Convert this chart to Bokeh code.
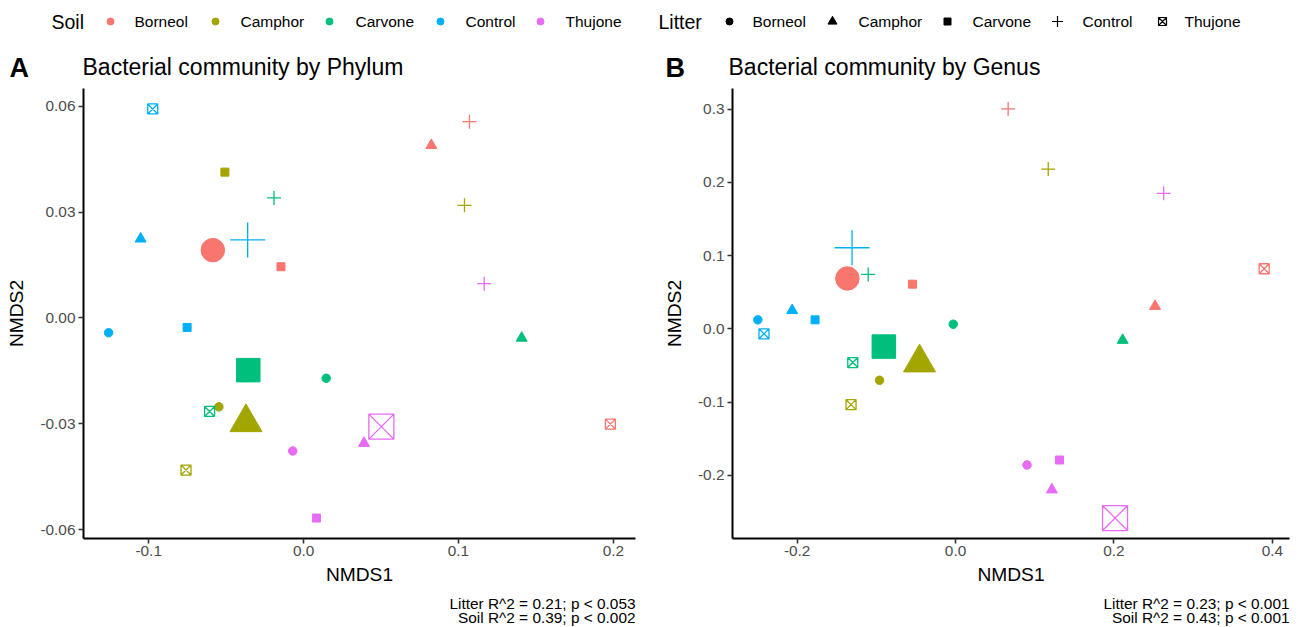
from bokeh.plotting import figure
from bokeh.models import ColumnDataSource, Range1d, FixedTicker
from bokeh.layouts import column, row
from bokeh.embed import file_html
from bokeh.resources import INLINE
from bokeh.core.properties import value
from bokeh.transform import factor_cmap, factor_mark

# ---------------- data ----------------
treatments = ["Borneol", "Camphor", "Carvone", "Control", "Thujone"]

# 25 rows: soil (outer) x litter (inner)
soil_groups = [s for s in treatments for _ in treatments]
litter_groups = [l for _ in treatments for l in treatments]

phylum_nmds1 = [-0.0586, 0.0825, -0.0146, 0.1071, 0.1981,
                -0.0547, -0.0372, -0.0508, 0.1039, -0.0759,
                0.0146, 0.1408, -0.0357, -0.0191, -0.0607,
                -0.1259, -0.1052, -0.0752, -0.0361, -0.0974,
                -0.0070, 0.0390, 0.0083, 0.1166, 0.0502]
phylum_nmds2 = [0.0192, 0.0489, 0.0145, 0.0556, -0.0301,
                -0.0252, -0.0296, 0.0413, 0.0319, -0.0431,
                -0.0171, -0.0057, -0.0148, 0.0340, -0.0265,
                -0.0042, 0.0224, -0.0027, 0.0221, 0.0592,
                -0.0377, -0.0355, -0.0567, 0.0097, -0.0308]

genus_nmds1 = [-0.1366, 0.2519, -0.0543, 0.0664, 0.3897,
               -0.0960, -0.0455, -0.0880, 0.1170, -0.1320,
               -0.0029, 0.2110, -0.0906, -0.1103, -0.1298,
               -0.2497, -0.2063, -0.1774, -0.1307, -0.2419,
               0.0902, 0.1216, 0.1312, 0.2628, 0.2014]
genus_nmds2 = [0.0688, 0.0309, 0.0610, 0.3004, 0.0821,
               -0.0703, -0.0462, -0.0240, 0.2183, -0.1036,
               0.0063, -0.0155, -0.0242, 0.0743, -0.0461,
               0.0123, 0.0252, 0.0123, 0.1108, -0.0068,
               -0.1860, -0.2198, -0.1792, 0.1851, -0.2585]

phylum_xticks = [-0.1, 0.0, 0.1, 0.2]
phylum_xlabels = ["-0.1", "0.0", "0.1", "0.2"]
phylum_yticks = [-0.06, -0.03, 0.0, 0.03, 0.06]
phylum_ylabels = ["-0.06", "-0.03", "0.00", "0.03", "0.06"]

genus_xticks = [-0.2, 0.0, 0.2, 0.4]
genus_xlabels = ["-0.2", "0.0", "0.2", "0.4"]
genus_yticks = [-0.2, -0.1, 0.0, 0.1, 0.2, 0.3]
genus_ylabels = ["-0.2", "-0.1", "0.0", "0.1", "0.2", "0.3"]

phylum_stats = ["Litter R^2 = 0.21; p < 0.053", "Soil R^2 = 0.39; p < 0.002"]
genus_stats = ["Litter R^2 = 0.23; p < 0.001", "Soil R^2 = 0.43; p < 0.001"]

panel_tags = ["A", "B"]
panel_titles = ["Bacterial community by Phylum", "Bacterial community by Genus"]

# ---------------- style ----------------
FONT = "Liberation Sans"
palette = ["#F8766D", "#A3A500", "#00BF7D", "#00B0F6", "#E76BF3"]
markers = ["circle", "triangle", "square", "cross", "square_x"]
small_size = {"circle": 8.5, "triangle": 11, "square": 8, "cross": 14, "square_x": 10}
big_size = {"circle": 23.5, "triangle": 32, "square": 23.5, "cross": 35, "square_x": 25}
open_marks = {"cross", "square_x"}
mark_of = dict(zip(treatments, markers))

TOP_H = 88
PANEL_H = 502
BOTTOM_H = 627 - TOP_H - PANEL_H
FRAME_BOTTOM_BORDER = 52


def make_source(xs, ys):
    sizes, lws, fas = [], [], []
    for s, l in zip(soil_groups, litter_groups):
        m = mark_of[l]
        sizes.append(big_size[m] if s == l else small_size[m])
        lws.append(1.3 if m in open_marks else 1.0)
        fas.append(0.0 if m in open_marks else 1.0)
    return ColumnDataSource(dict(x=xs, y=ys, soil=soil_groups, litter=litter_groups,
                                 size=sizes, lw=lws, fa=fas))


def make_panel(xs, ys, width, bl, br, xt, xl, yt, yl):
    xspan = max(xs) - min(xs)
    yspan = max(ys) - min(ys)
    p = figure(width=width, height=PANEL_H,
               x_range=Range1d(min(xs) - 0.05 * xspan, max(xs) + 0.05 * xspan),
               y_range=Range1d(min(ys) - 0.05 * yspan, max(ys) + 0.05 * yspan),
               output_backend="svg", toolbar_location=None,
               min_border_left=bl, min_border_right=br,
               min_border_top=0, min_border_bottom=FRAME_BOTTOM_BORDER)
    p.outline_line_color = None
    p.xgrid.visible = False
    p.ygrid.visible = False
    src = make_source(xs, ys)
    p.scatter(x="x", y="y", source=src, size="size",
              marker=factor_mark("litter", markers, treatments),
              fill_color=factor_cmap("soil", palette, treatments),
              line_color=factor_cmap("soil", palette, treatments),
              line_width="lw", fill_alpha="fa")
    p.xaxis.ticker = FixedTicker(ticks=xt)
    p.xaxis.major_label_overrides = dict(zip(xt, xl))
    p.yaxis.ticker = FixedTicker(ticks=yt)
    p.yaxis.major_label_overrides = dict(zip(yt, yl))
    p.xaxis.axis_label = "NMDS1"
    p.yaxis.axis_label = "NMDS2"
    for ax in (p.xaxis, p.yaxis):
        ax.axis_line_color = "black"
        ax.axis_line_width = 2
        ax.major_tick_line_color = "#333333"
        ax.major_tick_line_width = 1.6
        ax.major_tick_out = 5
        ax.major_tick_in = 0
        ax.minor_tick_line_color = None
        ax.major_label_text_font = FONT
        ax.major_label_text_font_size = "15.4px"
        ax.major_label_text_color = "#4D4D4D"
        ax.axis_label_text_font = FONT
        ax.axis_label_text_font_size = "19.2px"
        ax.axis_label_text_font_style = "normal"
        ax.axis_label_text_color = "black"
    p.xaxis.major_label_standoff = 2
    p.xaxis.axis_label_standoff = 5
    p.yaxis.major_label_standoff = 3
    p.yaxis.axis_label_standoff = 10
    return p


pA = make_panel(phylum_nmds1, phylum_nmds2, 660, 83, 25,
                phylum_xticks, phylum_xlabels, phylum_yticks, phylum_ylabels)
pB = make_panel(genus_nmds1, genus_nmds2, 641, 68, 12,
                genus_xticks, genus_xlabels, genus_yticks, genus_ylabels)

# ---------------- header: legends + panel titles ----------------
top = figure(width=1301, height=TOP_H, x_range=Range1d(0, 1301), y_range=Range1d(TOP_H, 0),
             output_backend="svg", toolbar_location=None, min_border=0,
             x_axis_type=None, y_axis_type=None)
top.outline_line_color = None

LEG_Y = 21
soil_key_x = [110, 215, 329, 440, 540]
soil_lab_x = [134, 240, 355, 465, 565]
litter_key_x = [729, 832, 947, 1057, 1162]
litter_lab_x = [752, 858, 972, 1082, 1184]
legend_key_size = {"circle": 7, "triangle": 9, "square": 7, "cross": 11, "square_x": 8}

top.text(x=[51, 658], y=[LEG_Y, LEG_Y], text=["Soil", "Litter"], text_font=value(FONT),
         text_font_size=value("19.5px"), text_baseline="middle", text_align="left",
         text_color="black")
top.scatter(x=soil_key_x, y=[LEG_Y] * 5, marker="circle", size=7, color=palette)
top.text(x=soil_lab_x, y=[LEG_Y] * 5, text=treatments, text_font=value(FONT),
         text_font_size=value("15.5px"), text_baseline="middle", text_align="left",
         text_color="black")
for kx, m in zip(litter_key_x, markers):
    top.scatter(x=[kx], y=[LEG_Y], marker=m, size=legend_key_size[m],
                fill_color="black" if m not in open_marks else None,
                line_color="black", line_width=1.2 if m in open_marks else 1)
top.text(x=litter_lab_x, y=[LEG_Y] * 5, text=treatments, text_font=value(FONT),
         text_font_size=value("15.5px"), text_baseline="middle", text_align="left",
         text_color="black")

top.text(x=[9, 665], y=[67, 67], text=panel_tags, text_font=value(FONT),
         text_font_size=value("27px"), text_font_style="bold", text_baseline="middle",
         text_align="left", text_color="black")
top.text(x=[82, 728], y=[66, 66], text=panel_titles, text_font=value(FONT),
         text_font_size=value("23px"), text_baseline="middle", text_align="left",
         text_color="black")

# ---------------- footer: statistics ----------------
y0 = TOP_H + PANEL_H
bottom = figure(width=1301, height=BOTTOM_H, x_range=Range1d(0, 1301),
                y_range=Range1d(627, y0),
                output_backend="svg", toolbar_location=None, min_border=0,
                x_axis_type=None, y_axis_type=None)
bottom.outline_line_color = None
bottom.text(x=[635, 635, 1289, 1289], y=[603, 616.5, 603, 616.5],
            text=phylum_stats + genus_stats, text_font=value(FONT),
            text_font_size=value("15.4px"), text_baseline="middle", text_align="right",
            text_color="black")

layout = column(top, row(pA, pB), bottom)
open("out.html", "w").write(file_html(layout, INLINE))
